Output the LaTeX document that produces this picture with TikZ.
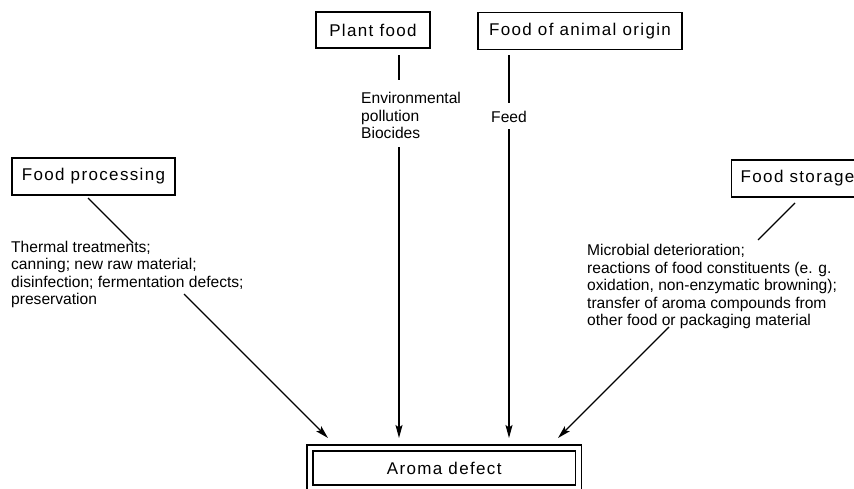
\documentclass[tikz,border=0pt]{standalone}
\usepackage{fontspec}
\setmainfont{Liberation Sans}
\newfontfamily\boxfont[LetterSpace=8]{Liberation Sans}
\usetikzlibrary{positioning, arrows.meta}

\begin{document}
\begin{tikzpicture}[x=1pt, y=-1pt,
  srcbox/.style={draw=black, line width=1.3pt, inner sep=0pt, font=\boxfont\fontsize{17}{20}\selectfont},
  effectbox/.style={draw=black, double, double distance=4.5pt, line width=1.3pt, inner sep=0pt, font=\boxfont\fontsize{17}{20}\selectfont},
  note/.style={font=\fontsize{15.6}{17.5}\selectfont, align=left, inner sep=0pt, anchor=north west},
  link/.style={-, line width=1.2pt},
  feedarrow/.style={-{Stealth[length=13pt, width=7pt, inset=2.5pt]}, line width=1.2pt},
]
\useasboundingbox (0,0) rectangle (854,488);

% =========================
% Sources
% =========================
\node[srcbox, minimum width=114pt, minimum height=36pt] (plant) at (373,30) {Plant food};
\node[srcbox, minimum width=204pt, minimum height=37pt] (animal) at (580,31) {Food of animal origin};
\node[srcbox, minimum width=163pt, minimum height=37pt] (processing) at (93.5,176.5) {Food processing};
\node[srcbox, minimum height=37pt, inner xsep=9pt, anchor=west] (storage) at (731,178.5) {Food storage};

% Target
\node[effectbox, minimum width=268.5pt, minimum height=40pt] (defect) at (444.25,468) {Aroma defect};

% =========================
% Causes
% =========================
\node[note] (proctext) at (11,240.5) {Thermal treatments;\\canning; new raw material;\\disinfection; fermentation defects;\\preservation};
\node[note] (planttext) at (361,92) {Environmental\\pollution\\Biocides};
\node[note, anchor=center] (feedtext) at (509,117) {Feed};
\node[note] (storetext) at (587,244) {Microbial deterioration;\\reactions of food constituents (e. g.\\oxidation, non-enzymatic browning);\\transfer of aroma compounds from\\other food or packaging material};

% Line break points
\coordinate (procA) at (88,198);
\coordinate (procB) at (133,243);
\coordinate (procC) at (184,294);
\coordinate (plantA) at (399,55);
\coordinate (plantB) at (399,80);
\coordinate (plantC) at (399,147);
\coordinate (feedA) at (509,55);
\coordinate (feedB) at (509,103);
\coordinate (feedC) at (509,129);
\coordinate (storeA) at (795,203);
\coordinate (storeB) at (758,240);
\coordinate (storeC) at (669,327);

% Arrow tips above the target box
\coordinate (tipA) at (328,438);
\coordinate (tipB) at (399,438);
\coordinate (tipC) at (509,438);
\coordinate (tipD) at (558,438);

% =========================
% Connectors
% =========================
\draw[link] (procA) -- (procB);
\draw[feedarrow] (procC) -- (tipA);
\draw[link] (plantA) -- (plantB);
\draw[feedarrow] (plantC) -- (tipB);
\draw[link] (feedA) -- (feedB);
\draw[feedarrow] (feedC) -- (tipC);
\draw[link] (storeA) -- (storeB);
\draw[feedarrow] (storeC) -- (tipD);

\end{tikzpicture}
\end{document}
